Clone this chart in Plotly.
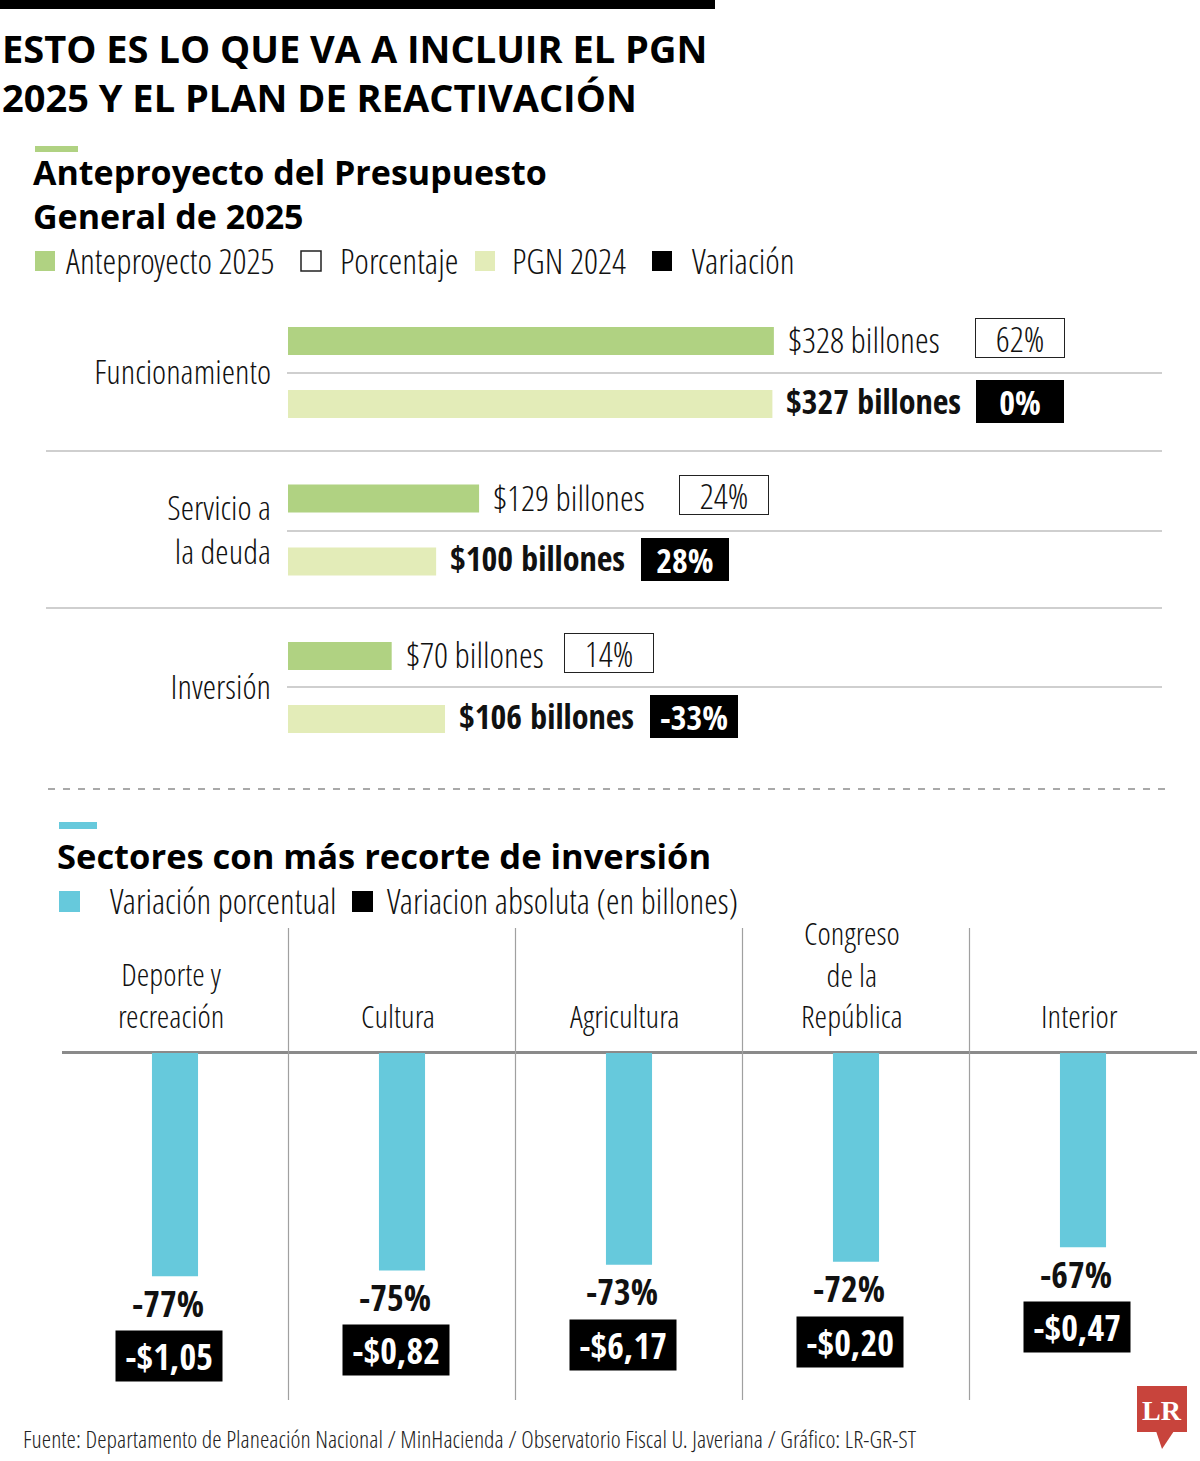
import plotly.graph_objects as go

W, H = 1200, 1461

# ---------------- Data ----------------
budget_categories = ["Funcionamiento", "Servicio a<br>la deuda", "Inversión"]
anteproyecto_2025 = [328, 129, 70]
pgn_2024 = [327, 100, 106]
porcentaje = ["62%", "24%", "14%"]
variacion = ["0%", "28%", "-33%"]

sectores = ["Deporte y<br>recreación", "Cultura", "Agricultura",
            "Congreso<br>de la<br>República", "Interior"]
variacion_pct = [-77, -75, -73, -72, -67]
variacion_abs = [-1.05, -0.82, -6.17, -0.20, -0.47]

# ---------------- Styles ----------------
GREEN = "#b0d282"
LIGHT = "#e3ecb8"
BLUE = "#66c9dc"
GRID = "#a0a0a0"
LF = "Open Sans Condensed Light, Roboto Condensed, sans-serif"   # light condensed
BF = "Open Sans Condensed, Roboto Condensed, sans-serif"         # bold condensed
HF = "Open Sans, sans-serif"                                      # headings


def px(x):
    return x / W


def py(y):
    return 1 - y / H


def light(size, color="#111"):
    return dict(family=LF, size=size, color=color)


def bold(size, color="#111"):
    return dict(family=BF, size=size, color=color, weight=700)


fig = go.Figure()

# ---------------- Top chart ----------------
fig.add_trace(go.Bar(y=budget_categories, x=anteproyecto_2025, orientation="h",
                     width=0.178, offset=-0.289, marker=dict(color=GREEN, line_width=0),
                     name="Anteproyecto 2025", xaxis="x", yaxis="y"))
fig.add_trace(go.Bar(y=budget_categories, x=pgn_2024, orientation="h",
                     width=0.178, offset=0.111, marker=dict(color=LIGHT, line_width=0),
                     name="PGN 2024", xaxis="x", yaxis="y"))

# ---------------- Bottom chart ----------------
fig.add_trace(go.Bar(x=sectores, y=variacion_pct, width=0.203,
                     marker=dict(color=BLUE, line_width=0),
                     name="Variación porcentual", xaxis="x2", yaxis="y2"))

annotations = []
shapes = []

# value labels + boxes (top)
pct_shift_2025 = [246, 245, 217]
var_shift_2024 = [248, 249, 249]
for i, cat in enumerate(budget_categories):
    annotations.append(dict(x=anteproyecto_2025[i], y=cat, xref="x", yref="y",
                            text=f"${anteproyecto_2025[i]} billones", showarrow=False,
                            xanchor="left", yanchor="middle", xshift=12, yshift=33,
                            font=light(35)))
    annotations.append(dict(x=pgn_2024[i], y=cat, xref="x", yref="y",
                            text=f"${pgn_2024[i]} billones", showarrow=False,
                            xanchor="left", yanchor="middle", xshift=12, yshift=-28,
                            font=bold(34)))
    annotations.append(dict(x=anteproyecto_2025[i], y=cat, xref="x", yref="y",
                            text=porcentaje[i], showarrow=False,
                            xanchor="center", yanchor="middle",
                            xshift=pct_shift_2025[i], yshift=35,
                            width=86, height=36, bgcolor="white",
                            bordercolor="#222", borderwidth=1, borderpad=1,
                            font=light(35)))
    annotations.append(dict(x=pgn_2024[i], y=cat, xref="x", yref="y",
                            text=variacion[i], showarrow=False,
                            xanchor="center", yanchor="middle",
                            xshift=var_shift_2024[i], yshift=-29,
                            width=84, height=39, bgcolor="black",
                            bordercolor="black", borderwidth=1, borderpad=1,
                            font=bold(34, "white")))

# separators (top)
for yv in [373, 531, 687]:
    shapes.append(dict(type="line", xref="paper", yref="paper", x0=px(287), x1=px(1162),
                       y0=py(yv), y1=py(yv), line=dict(color=GRID, width=1.2)))
for yv in [451, 608]:
    shapes.append(dict(type="line", xref="paper", yref="paper", x0=px(46), x1=px(1162),
                       y0=py(yv), y1=py(yv), line=dict(color=GRID, width=1.2)))

# dashed separator
shapes.append(dict(type="line", xref="paper", yref="paper", x0=px(48), x1=px(1170),
                   y0=py(789), y1=py(789), line=dict(color="#555", width=1.2, dash="7px,8px")))

# bottom labels
for i, s in enumerate(sectores):
    annotations.append(dict(x=s, y=variacion_pct[i], xref="x2", yref="y2",
                            text=f"{variacion_pct[i]}%", showarrow=False,
                            yanchor="middle", yshift=-27, xshift=-7,
                            font=bold(36)))
    txt = f"{variacion_abs[i]:.2f}".replace("-", "-$").replace(".", ",")
    annotations.append(dict(x=s, y=variacion_pct[i], xref="x2", yref="y2",
                            text=txt, showarrow=False,
                            yanchor="middle", yshift=-80, xshift=-6,
                            width=104, height=48, bgcolor="black", borderpad=1,
                            font=bold(36, "white")))
    annotations.append(dict(x=s, y=0, xref="x2", yref="y2",
                            text=s, showarrow=False, yanchor="bottom",
                            yshift=14, xshift=-4,
                            font=light(32)))

# vertical separators (bottom)
for xv in [0.5, 1.5, 2.5, 3.5]:
    shapes.append(dict(type="line", xref="x2", yref="paper", x0=xv, x1=xv,
                       y0=py(1400), y1=py(928), line=dict(color=GRID, width=1.2)))

# ---------------- Header ----------------
shapes.append(dict(type="rect", xref="paper", yref="paper", x0=0, x1=px(715),
                   y0=py(9), y1=1, fillcolor="black", line_width=0))
annotations.append(dict(xref="paper", yref="paper", x=px(0), y=py(72.5),
                        text="ESTO ES LO QUE VA A INCLUIR EL PGN<br>2025 Y EL PLAN DE REACTIVACIÓN",
                        showarrow=False, xanchor="left", yanchor="middle", align="left",
                        font=dict(family=HF, size=38, color="black", weight=700)))

shapes.append(dict(type="rect", xref="paper", yref="paper", x0=px(35), x1=px(78),
                   y0=py(152), y1=py(146), fillcolor=GREEN, line_width=0))
annotations.append(dict(xref="paper", yref="paper", x=px(31), y=py(194),
                        text="Anteproyecto del Presupuesto<br>General de 2025",
                        showarrow=False, xanchor="left", yanchor="middle", align="left",
                        font=dict(family=HF, size=34, color="black", weight=700)))

# legend (top)
leg = [(35, GREEN, None, 64, "Anteproyecto 2025"),
       (301, "white", "#222", 338, "Porcentaje"),
       (475, LIGHT, None, 510, "PGN 2024"),
       (652, "black", None, 690, "Variación")]
for x0, fc, lc, tx, label in leg:
    shapes.append(dict(type="rect", xref="paper", yref="paper", x0=px(x0), x1=px(x0 + 20),
                       y0=py(271), y1=py(251), fillcolor=fc,
                       line=dict(color=lc or fc, width=1.5 if lc else 0)))
    annotations.append(dict(xref="paper", yref="paper", x=px(tx), y=py(260), text=label,
                            showarrow=False, xanchor="left", yanchor="middle",
                            font=light(35)))

# bottom header
shapes.append(dict(type="rect", xref="paper", yref="paper", x0=px(59), x1=px(97),
                   y0=py(829), y1=py(822), fillcolor=BLUE, line_width=0))
annotations.append(dict(xref="paper", yref="paper", x=px(55), y=py(856),
                        text="Sectores con más recorte de inversión", showarrow=False,
                        xanchor="left", yanchor="middle",
                        font=dict(family=HF, size=34.5, color="black", weight=700)))
for x0, fc, tx, label in [(59, BLUE, 108, "Variación porcentual"),
                          (352, "black", 385, "Variacion absoluta (en billones)")]:
    shapes.append(dict(type="rect", xref="paper", yref="paper", x0=px(x0), x1=px(x0 + 21),
                       y0=py(912), y1=py(891), fillcolor=fc, line_width=0))
    annotations.append(dict(xref="paper", yref="paper", x=px(tx), y=py(900), text=label,
                            showarrow=False, xanchor="left", yanchor="middle",
                            font=light(34.5)))

# footer
annotations.append(dict(xref="paper", yref="paper", x=px(21), y=py(1438),
                        text="Fuente: Departamento de Planeación Nacional / MinHacienda / Observatorio Fiscal U. Javeriana / Gráfico: LR-GR-ST",
                        showarrow=False, xanchor="left", yanchor="middle",
                        font=light(24, "#222")))

# LR logo
LRRED = "#c8443c"
shapes.append(dict(type="rect", xref="paper", yref="paper", x0=px(1137), x1=px(1187),
                   y0=py(1432), y1=py(1386), fillcolor=LRRED, line_width=0))
shapes.append(dict(type="path", xref="paper", yref="paper",
                   path=f"M {px(1156)},{py(1431)} L {px(1174)},{py(1431)} L {px(1162)},{py(1449)} Z",
                   fillcolor=LRRED, line_width=0))
annotations.append(dict(xref="paper", yref="paper", x=px(1162), y=py(1410), text="LR",
                        showarrow=False, xanchor="center", yanchor="middle",
                        font=dict(family="Liberation Serif, DejaVu Serif, serif", size=28,
                                  color="white", weight=700)))

fig.update_layout(
    width=W, height=H, margin=dict(l=0, r=0, t=0, b=0),
    paper_bgcolor="white", plot_bgcolor="rgba(0,0,0,0)",
    showlegend=False, barmode="overlay",
    xaxis=dict(domain=[px(288), px(1162)], range=[0, 590], visible=False, fixedrange=True),
    yaxis=dict(domain=[py(766.25), py(293.75)], range=[2.5, -0.5], anchor="x",
               showgrid=False, zeroline=False, showline=False, ticks="",
               ticklabelstandoff=16, tickfont=light(34), fixedrange=True),
    xaxis2=dict(domain=[px(61.5), px(1196.5)], range=[-0.5, 4.5], anchor="y2",
                visible=False, fixedrange=True),
    yaxis2=dict(domain=[py(1400), py(928)], range=[-119.66, 43.1], anchor="x2",
                showgrid=False, showticklabels=False, ticks="", showline=False,
                zeroline=True, zerolinecolor="#8a8a8a", zerolinewidth=2.5, fixedrange=True),
    annotations=annotations, shapes=shapes,
)

fig.write_html("out.html", config={"displayModeBar": False},
               post_script="document.body.style.margin='0';")
